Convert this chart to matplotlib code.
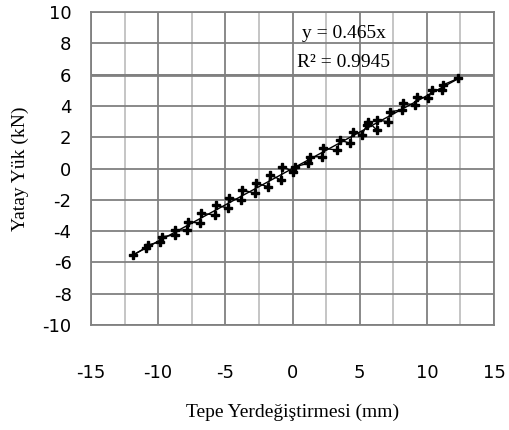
import matplotlib.pyplot as plt
from matplotlib.ticker import MultipleLocator

# okunan noktalar (yaklasik)
yerdegistirme = [-11.85, -10.9, -10.75, -9.86, -9.74, -8.75, -8.75, -7.88, -7.8,
                 -6.88, -6.8, -5.77, -5.7, -4.78, -4.75, -3.85, -3.73, -2.79, -2.75,
                 -1.8, -1.67, -0.85, -0.75, 0.06, 0.19, 1.18, 1.3, 2.18, 2.3,
                 3.3, 3.54, 4.29, 4.49, 5.16, 5.53, 5.65, 6.27, 6.3, 7.14, 7.26,
                 8.13, 8.25, 9.12, 9.25, 10.12, 10.37, 11.1, 11.2, 12.35]
yuk = [-5.53, -5.05, -4.89, -4.68, -4.36, -4.25, -3.93, -3.93, -3.4,
       -3.5, -2.86, -2.97, -2.33, -2.54, -1.9, -2.01, -1.37, -1.58, -0.94,
       -1.16, -0.41, -0.73, 0.12, -0.2, 0.12, 0.33, 0.75, 0.75, 1.29,
       1.18, 1.82, 1.61, 2.35, 2.14, 2.78, 2.99, 2.46, 3.1, 2.99, 3.63,
       3.74, 4.17, 4.06, 4.59, 4.48, 5.02, 5.02, 5.34, 5.76]
egim = 0.465
r2 = 0.9945

plt.rcParams["axes.unicode_minus"] = False

fig = plt.figure(figsize=(5.09, 4.30), dpi=100)
ax = fig.add_axes([91/509, 105/430, 403/509, 313/430])

ax.plot(yerdegistirme, yuk, color="black", lw=1.0, marker="P", ms=6,
        markeredgecolor="black", markeredgewidth=1.0, markerfacecolor="black",
        zorder=3)
trend_x = [min(yerdegistirme), max(yerdegistirme)]
ax.plot(trend_x, [egim * v for v in trend_x], color="black", lw=1.0, zorder=2)

ax.set_xlim(-15, 15)
ax.set_ylim(-10, 10)
ax.xaxis.set_major_locator(MultipleLocator(5))
ax.xaxis.set_minor_locator(MultipleLocator(2.5))
ax.yaxis.set_major_locator(MultipleLocator(2))
ax.grid(which="major", color="#808080", lw=1.3)
ax.grid(which="minor", axis="x", color="#c0c0c0", lw=1.3)
ax.axhline(6, color="#808080", lw=2.0, zorder=1)
ax.set_axisbelow(True)
for s in ax.spines.values():
    s.set_color("#808080")
    s.set_linewidth(1.3)
ax.tick_params(which="both", length=0)
ax.tick_params(axis="x", pad=28, labelsize=13)
ax.tick_params(axis="y", pad=14, labelsize=13)

ax.set_xlabel("Tepe Yerdeğiştirmesi (mm)", fontfamily="Liberation Serif",
              fontsize=14, labelpad=16)
ax.set_ylabel("Yatay Yük (kN)", fontfamily="Liberation Serif", fontsize=14,
              labelpad=10)

ax.text(3.8, 8.6, "y = %.3fx" % egim, ha="center", va="center",
        fontfamily="Liberation Serif", fontsize=14)
ax.text(3.8, 6.75, "R² = %.4f" % r2, ha="center", va="center",
        fontfamily="Liberation Serif", fontsize=14)

fig.savefig("out.png", dpi=100)
